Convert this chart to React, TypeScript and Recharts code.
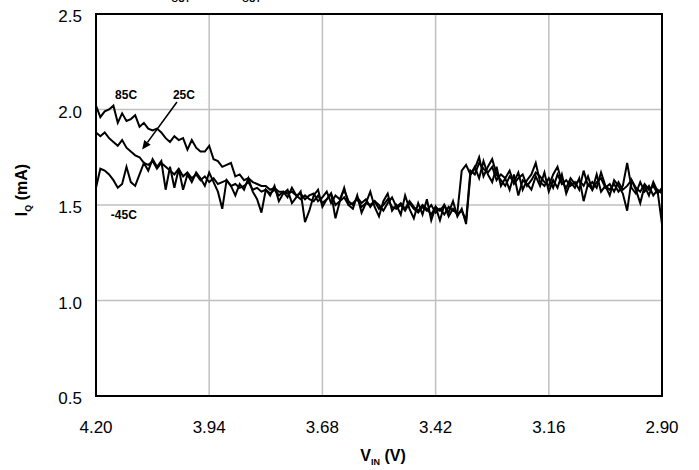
import React from 'react';
import { LineChart, Line, XAxis, YAxis, CartesianGrid, ReferenceArea, ReferenceDot, ReferenceLine } from 'recharts';

const X_TICKS = [4.2, 3.94, 3.68, 3.42, 3.16, 2.9];
const Y_TICKS = [0.5, 1.0, 1.5, 2.0, 2.5];

// VIN sample grid: 4.20 V down to 2.90 V in 10 mV steps
const VIN = Array.from({ length: 131 }, (_, i) => +(4.2 - i * 0.01).toFixed(2));

const IQ_85C = [
  2.02, 1.96, 1.99, 2.00, 2.02, 1.93, 1.98, 1.94, 1.95, 1.97,
  1.91, 1.93, 1.90, 1.89, 1.90, 1.88, 1.85, 1.83, 1.86, 1.84,
  1.85, 1.79, 1.84, 1.80, 1.78, 1.78, 1.81, 1.74, 1.73, 1.70,
  1.71, 1.72, 1.65, 1.66, 1.63, 1.64, 1.62, 1.61, 1.60, 1.60,
  1.58, 1.59, 1.57, 1.57, 1.56, 1.57, 1.55, 1.53, 1.55, 1.53,
  1.52, 1.55, 1.51, 1.53, 1.56, 1.50, 1.52, 1.54, 1.50, 1.51,
  1.53, 1.49, 1.51, 1.50, 1.52, 1.48, 1.50, 1.53, 1.49, 1.48,
  1.50, 1.47, 1.51, 1.48, 1.46, 1.49, 1.47, 1.50, 1.46, 1.48,
  1.45, 1.49, 1.47, 1.46, 1.68, 1.71, 1.66, 1.69, 1.75, 1.65,
  1.70, 1.74, 1.66, 1.63, 1.60, 1.65, 1.62, 1.67, 1.58, 1.63,
  1.66, 1.72, 1.62, 1.60, 1.64, 1.59, 1.66, 1.61, 1.63, 1.60,
  1.62, 1.58, 1.68, 1.60, 1.62, 1.59, 1.67, 1.60, 1.58, 1.61,
  1.57, 1.60, 1.72, 1.59, 1.56, 1.62, 1.57, 1.60, 1.55, 1.58, 1.56,
];

const IQ_25C = [
  1.88, 1.86, 1.88, 1.85, 1.83, 1.81, 1.84, 1.80, 1.78, 1.76,
  1.75, 1.72, 1.71, 1.73, 1.69, 1.72, 1.70, 1.68, 1.66, 1.69,
  1.65, 1.67, 1.64, 1.66, 1.63, 1.65, 1.62, 1.64, 1.61, 1.62,
  1.63, 1.60, 1.61, 1.59, 1.60, 1.62, 1.58, 1.59, 1.57, 1.58,
  1.56, 1.58, 1.55, 1.57, 1.54, 1.59, 1.55, 1.56, 1.53, 1.55,
  1.56, 1.52, 1.54, 1.57, 1.51, 1.55, 1.53, 1.58, 1.52, 1.50,
  1.54, 1.51, 1.53, 1.49, 1.52, 1.50, 1.47, 1.51, 1.54, 1.49,
  1.51, 1.48, 1.52, 1.49, 1.47, 1.50, 1.48, 1.45, 1.49, 1.47,
  1.50, 1.44, 1.48, 1.45, 1.47, 1.42, 1.68, 1.66, 1.72, 1.69,
  1.67, 1.70, 1.63, 1.66, 1.64, 1.68, 1.61, 1.64, 1.66, 1.60,
  1.63, 1.67, 1.65, 1.62, 1.60, 1.66, 1.70, 1.62, 1.59, 1.64,
  1.61, 1.63, 1.60, 1.65, 1.58, 1.62, 1.64, 1.59, 1.61, 1.57,
  1.62, 1.58, 1.60, 1.63, 1.59, 1.57, 1.61, 1.58, 1.60, 1.56, 1.59,
];

const IQ_M45C = [
  1.59, 1.69, 1.68, 1.66, 1.63, 1.59, 1.61, 1.70, 1.62, 1.60,
  1.66, 1.72, 1.68, 1.74, 1.70, 1.73, 1.58, 1.70, 1.59, 1.69,
  1.58, 1.66, 1.62, 1.67, 1.64, 1.60, 1.67, 1.62, 1.57, 1.48,
  1.63, 1.60, 1.55, 1.61, 1.58, 1.64, 1.57, 1.53, 1.46, 1.58,
  1.55, 1.60, 1.52, 1.56, 1.58, 1.51, 1.54, 1.57, 1.41, 1.47,
  1.55, 1.58, 1.49, 1.53, 1.56, 1.43, 1.52, 1.59, 1.50, 1.48,
  1.55, 1.46, 1.51, 1.57, 1.49, 1.44, 1.52, 1.56, 1.47, 1.50,
  1.45, 1.55, 1.48, 1.43, 1.51, 1.45, 1.53, 1.42, 1.49, 1.42,
  1.50, 1.46, 1.52, 1.44, 1.48, 1.40, 1.66, 1.70, 1.64, 1.73,
  1.66, 1.62, 1.70, 1.60, 1.64, 1.58, 1.66, 1.55, 1.63, 1.61,
  1.58, 1.65, 1.60, 1.67, 1.57, 1.63, 1.59, 1.66, 1.56, 1.62,
  1.59, 1.64, 1.52, 1.61, 1.58, 1.66, 1.57, 1.60, 1.55, 1.63,
  1.60, 1.56, 1.47, 1.63, 1.58, 1.51, 1.60, 1.55, 1.62, 1.57, 1.40,
];

const LABELS = [
  { text: '85C', v: 4.131, iq: 2.075 },
  { text: '25C', v: 3.998, iq: 2.075 },
  { text: '-45C', v: 4.136, iq: 1.448 },
];
const ARROW = { from: { v: 4.014, iq: 2.039 }, to: { v: 4.094, iq: 1.79 } };

const data = VIN.map((v, i) => ({ v, t85: IQ_85C[i], t25: IQ_25C[i], tm45: IQ_M45C[i] }));

const FONT = 'Liberation Sans, Arial, sans-serif';

const Arrow = (p: any) => {
  const { x1, y1, x2, y2 } = p;
  const ang = Math.atan2(y2 - y1, x2 - x1);
  const L = 9, W = 4;
  const bx = x2 - L * Math.cos(ang), by = y2 - L * Math.sin(ang);
  const nx = -Math.sin(ang) * W, ny = Math.cos(ang) * W;
  return (
    <g>
      <line x1={x1} y1={y1} x2={bx} y2={by} stroke="#000" strokeWidth={1.6} />
      <polygon points={`${x2},${y2} ${bx + nx},${by + ny} ${bx - nx},${by - ny}`} fill="#000" />
    </g>
  );
};

export default function App() {
  return (
    <div style={{ position: 'absolute', left: 0, top: 0, width: 699, height: 470, background: '#fff' }}>
      <svg width={699} height={20} style={{ position: 'absolute', left: 0, top: 0 }}>
        <text x={162} y={-8} fontFamily={FONT} fontSize={14} fontWeight="bold" fill="#000">
          V<tspan fontSize={9} dy={10}>OUT</tspan>
        </text>
        <text x={232} y={-8} fontFamily={FONT} fontSize={14} fontWeight="bold" fill="#000">
          I<tspan fontSize={9} dy={10} dx={6}>OUT</tspan>
        </text>
      </svg>
      <div style={{ position: 'absolute', left: 0, top: 0 }}>
        <LineChart width={699} height={470} data={data} margin={{ top: 14, right: 37, left: 0, bottom: 0 }}>
          <CartesianGrid stroke="#c0c0c0" strokeWidth={1.5} vertical horizontal />
          <XAxis
            dataKey="v"
            type="number"
            domain={[2.9, 4.2]}
            reversed
            ticks={X_TICKS}
            interval={0}
            tickFormatter={(v: number) => v.toFixed(2)}
            tickLine={false}
            axisLine={{ stroke: '#000', strokeWidth: 2 }}
            tick={{ fill: '#000', fontSize: 17, fontFamily: FONT }}
            tickMargin={19}
            height={74}
            allowDataOverflow
          />
          <YAxis
            type="number"
            domain={[0.5, 2.5]}
            ticks={Y_TICKS}
            interval={0}
            tickFormatter={(v: number) => v.toFixed(1)}
            tickLine={false}
            axisLine={{ stroke: '#000', strokeWidth: 2 }}
            tick={{ fill: '#000', fontSize: 17, fontFamily: FONT, dy: 2 }}
            tickMargin={8}
            width={96}
          />
          <ReferenceArea x1={4.2} x2={2.9} y1={0.5} y2={2.5} fill="none" stroke="#000" strokeWidth={2} ifOverflow="visible" />
          <Line type="linear" dataKey="tm45" stroke="#000" strokeWidth={2} dot={false} isAnimationActive={false} />
          <Line type="linear" dataKey="t25" stroke="#000" strokeWidth={2} dot={false} isAnimationActive={false} />
          <Line type="linear" dataKey="t85" stroke="#000" strokeWidth={2} dot={false} isAnimationActive={false} />
          <ReferenceLine
            segment={[{ x: ARROW.from.v, y: ARROW.from.iq }, { x: ARROW.to.v, y: ARROW.to.iq }]}
            shape={Arrow}
            ifOverflow="visible"
          />
          {LABELS.map((l) => (
            <ReferenceDot
              key={l.text}
              x={l.v}
              y={l.iq}
              r={0}
              ifOverflow="visible"
              shape={(p: any) => (
                <text x={p.cx} y={p.cy} textAnchor="middle" dominantBaseline="central" fontFamily={FONT} fontSize={12} fontWeight="bold" fill="#000">
                  {l.text}
                </text>
              )}
            />
          ))}
        </LineChart>
      </div>
      <svg width={699} height={470} style={{ position: 'absolute', left: 0, top: 0, pointerEvents: 'none' }}>
        <text x={383} y={461} textAnchor="middle" fontFamily={FONT} fontSize={16} fontWeight="bold" fill="#000">
          V<tspan fontSize={9} dy={4}>IN</tspan><tspan dy={-4}> (V)</tspan>
        </text>
        <text transform="translate(27,190) rotate(-90)" textAnchor="middle" fontFamily={FONT} fontSize={16} fontWeight="bold" fill="#000">
          I<tspan fontSize={9} dy={4}>Q</tspan><tspan dy={-4}> (mA)</tspan>
        </text>
      </svg>
    </div>
  );
}
